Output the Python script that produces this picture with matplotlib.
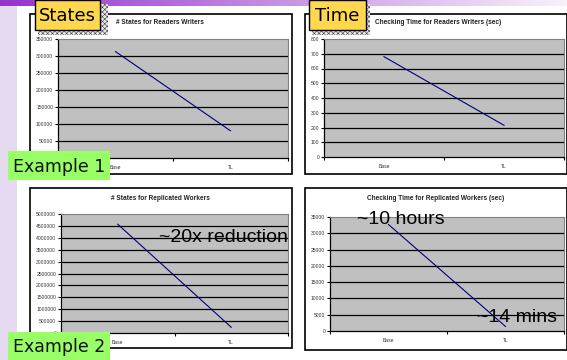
import matplotlib
matplotlib.use("Agg")
import matplotlib.pyplot as plt
import numpy as np
from matplotlib.patches import Rectangle

plt.rcParams["hatch.linewidth"] = 0.4

# ---- data ----
categories = ["Base", "TL"]
rw_states = [313000, 80000]
rw_time = [680, 215]
repl_states = [4570000, 240000]
repl_time = [32700, 1400]

titles = ["# States for Readers Writers",
          "Checking Time for Readers Writers (sec)",
          "# States for Replicated Workers",
          "Checking Time for Replicated Workers (sec)"]
ymaxes = [350000, 800, 5000000, 35000]
ysteps = [50000, 100, 500000, 5000]
series = [rw_states, rw_time, repl_states, repl_time]

W, H = 567, 360
fig = plt.figure(figsize=(W / 100, H / 100), dpi=100)
fig.patch.set_facecolor("white")

def px_axes(x0, y0, x1, y1, **kw):
    return fig.add_axes([x0 / W, 1 - y1 / H, (x1 - x0) / W, (y1 - y0) / H], **kw)

# background axes
bg = px_axes(0, 0, W, H, zorder=0)
bg.set_xlim(0, W); bg.set_ylim(H, 0); bg.axis("off")
grad = np.linspace(0, 1, 256)[None, :]
c0 = np.array([0.58, 0.20, 0.80]); c1 = np.array([0.97, 0.95, 0.98])
img = c0[None, None, :] * (1 - grad[..., None]) + c1[None, None, :] * grad[..., None]
bg.imshow(img, extent=(0, W, 6, 0), aspect="auto", zorder=1)
bg.add_patch(Rectangle((0, 6), 17, H - 6, facecolor="#E6DAF0", edgecolor="none", zorder=1))

frames = [(30, 14, 292, 174), (305, 14, 567, 174), (30, 188, 292, 348), (305, 188, 567, 350)]
for (x0, y0, x1, y1) in frames:
    bg.add_patch(Rectangle((x0, y0), x1 - x0, y1 - y0, facecolor="white",
                           edgecolor="black", linewidth=1.2, zorder=2))

title_pos = [(160, 23), (438, 23), (160, 198), (436, 198)]
for (tx, ty), t in zip(title_pos, titles):
    bg.text(tx, ty, t, ha="center", va="center", fontsize=4.7, fontweight="bold",
            family="Liberation Sans", color="#222222", zorder=3)

plots = [(58, 39, 288, 158), (324, 39, 564, 157), (61, 214, 288, 333), (330, 217, 564, 331)]
for (x0, y0, x1, y1), vals, ymax, step in zip(plots, series, ymaxes, ysteps):
    ax = px_axes(x0, y0, x1, y1, zorder=2)
    ax.set_facecolor("#C0C0C0")
    ax.set_xlim(0, 2)
    ax.set_ylim(0, ymax)
    xs = np.arange(len(categories)) + 0.5
    ax.plot(xs, vals, color="#000080", linewidth=0.8, zorder=3)
    yt = np.arange(0, ymax + step / 2, step)
    ax.set_yticks(yt)
    ax.set_yticklabels([str(int(v)) for v in yt])
    for v in yt[1:-1]:
        ax.axhline(v, color="black", linewidth=0.9, zorder=2)
    ax.set_xticks([0, 1, 2])
    ax.set_xticklabels([])
    ax.set_xticks(xs, minor=True)
    ax.set_xticklabels(categories, minor=True)
    ax.tick_params(axis="x", which="minor", length=0, pad=5)
    ax.tick_params(axis="x", which="major", length=2, width=0.8, direction="out")
    ax.tick_params(axis="y", length=2, width=0.8, direction="out", pad=1.5)
    for lab in ax.get_yticklabels() + ax.get_xticklabels(minor=True):
        lab.set_fontsize(3.6)
        lab.set_family("Liberation Sans")
        lab.set_color("#333333")
    for s in ["top", "right"]:
        ax.spines[s].set_color("#808080")
        ax.spines[s].set_linewidth(0.8)
    for s in ["left", "bottom"]:
        ax.spines[s].set_color("black")
        ax.spines[s].set_linewidth(0.9)

# overlay for labels
ov = px_axes(0, 0, W, H, zorder=10)
ov.set_xlim(0, W); ov.set_ylim(H, 0); ov.axis("off")

for (x0, y0, w, h) in [(38, 4, 70, 31), (312, 4, 58, 31)]:
    ov.add_patch(Rectangle((x0, y0), w, h, facecolor="#E8E8E8", edgecolor="#444444",
                           hatch="xxxxxxx", linewidth=0, zorder=1))

for (x0, y0, x1, y1, t) in [(35, 0, 100, 30, "States"), (309, 0, 366, 30, "Time")]:
    ov.add_patch(Rectangle((x0, y0), x1 - x0, y1 - y0, facecolor="#FFD84F",
                           edgecolor="black", linewidth=1.0, zorder=2))
    ov.text((x0 + x1) / 2, (y0 + y1) / 2 + 1, t, ha="center", va="center",
            fontsize=13, family="DejaVu Sans", color="black", zorder=3)

for (x0, y0, x1, y1, t) in [(8, 151, 110, 180, "Example 1"), (8, 332, 110, 360, "Example 2")]:
    ov.add_patch(Rectangle((x0, y0), x1 - x0, y1 - y0, facecolor="#99FF66",
                           edgecolor="none", zorder=2))
    ov.text((x0 + x1) / 2, (y0 + y1) / 2 + 1, t, ha="center", va="center",
            fontsize=12.5, family="DejaVu Sans", color="#111111", zorder=3)

for (x, y, t) in [(159, 237, "~20x reduction"), (357, 219, "~10 hours"), (477, 317, "~14 mins")]:
    ov.text(x, y, t, ha="left", va="center", fontsize=14, family="Liberation Sans",
            color="black", zorder=3)

fig.savefig("out.png", dpi=100, facecolor="white")
